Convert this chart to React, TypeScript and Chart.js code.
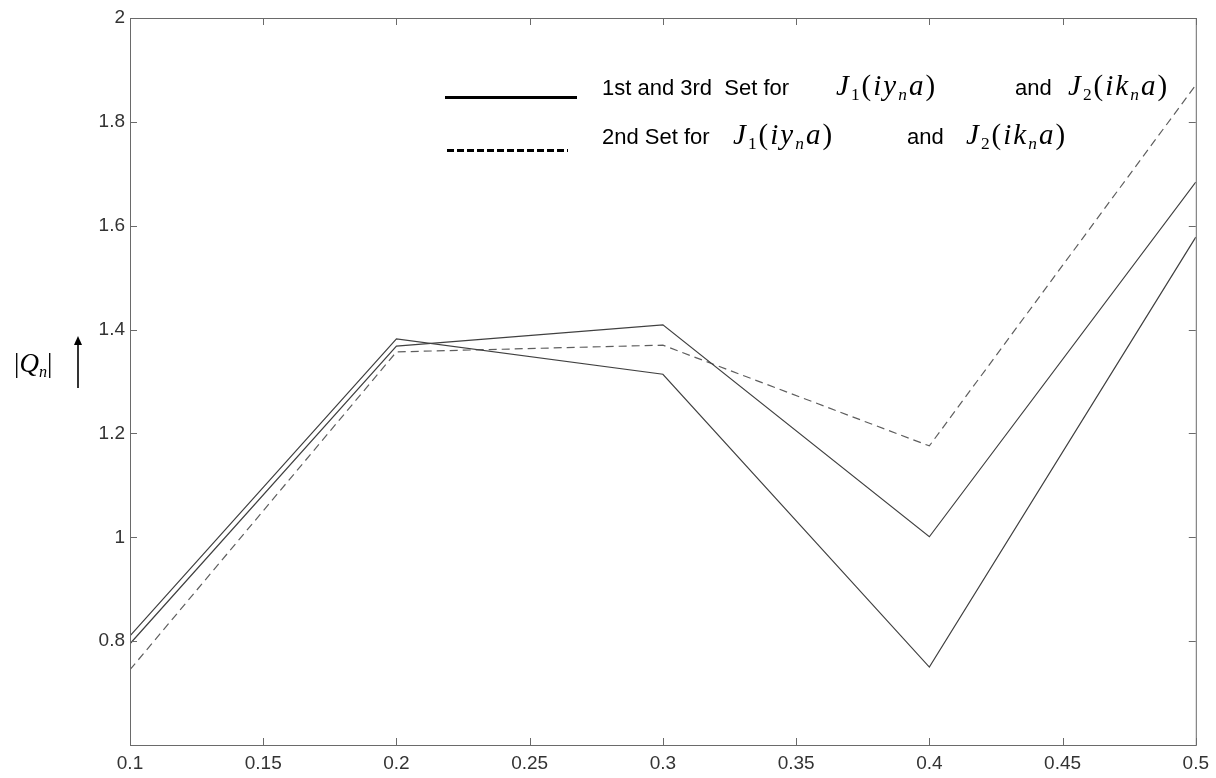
import React, { useEffect, useRef } from "react";
import { Chart, registerables } from "chart.js";

Chart.register(...registerables);

// ---- data ----
const xValues = [0.1, 0.2, 0.3, 0.4, 0.5];
const set1Values = [0.81, 1.382, 1.314, 0.75, 1.578];
const set3Values = [0.795, 1.368, 1.409, 1.001, 1.684];
const set2Values = [0.745, 1.357, 1.37, 1.176, 1.871];
const xTicks = [0.1, 0.15, 0.2, 0.25, 0.3, 0.35, 0.4, 0.45, 0.5];
const xTickLabels = ["0.1", "0.15", "0.2", "0.25", "0.3", "0.35", "0.4", "0.45", "0.5"];
const yTicks = [0.6, 0.8, 1, 1.2, 1.4, 1.6, 1.8, 2];
const yTickLabels = ["", "0.8", "1", "1.2", "1.4", "1.6", "1.8", "2"];

const W = 1216;
const H = 778;

const framePlugin = {
  id: "frame",
  afterDraw(chart: any) {
    const { ctx, chartArea, scales } = chart;
    const { left, right, top, bottom } = chartArea;
    ctx.save();
    ctx.strokeStyle = "#6a6a6a";
    ctx.lineWidth = 1;
    ctx.strokeRect(left + 0.5, top + 0.5, right - left, bottom - top);
    const tl = 7;
    ctx.beginPath();
    xTicks.forEach((v) => {
      const px = Math.round(scales.x.getPixelForValue(v)) + 0.5;
      ctx.moveTo(px, bottom);
      ctx.lineTo(px, bottom - tl);
      ctx.moveTo(px, top);
      ctx.lineTo(px, top + tl);
    });
    yTicks.forEach((v) => {
      const py = Math.round(scales.y.getPixelForValue(v)) + 0.5;
      ctx.moveTo(left, py);
      ctx.lineTo(left + tl, py);
      ctx.moveTo(right, py);
      ctx.lineTo(right - tl, py);
    });
    ctx.stroke();
    ctx.restore();
  },
};

function Sub({ children, italic }: { children: any; italic?: boolean }) {
  return (
    <span
      style={{
        fontSize: "0.6em",
        verticalAlign: "-0.3em",
        fontStyle: italic ? "italic" : "normal",
      }}
    >
      {children}
    </span>
  );
}

function MathJ({ idx, v }: { idx: string; v: string }) {
  return (
    <span
      style={{
        fontFamily: "'Liberation Serif', 'DejaVu Serif', serif",
        fontStyle: "italic",
        fontSize: 29,
        letterSpacing: 2,
      }}
    >
      J<Sub>{idx}</Sub>
      <span style={{ fontStyle: "normal" }}>(</span>
      {v}
      <Sub italic>n</Sub>a<span style={{ fontStyle: "normal" }}>)</span>
    </span>
  );
}

const abs = (left: number, top: number, extra: any = {}) => ({
  position: "absolute" as const,
  left,
  top,
  whiteSpace: "pre" as const,
  lineHeight: "28px",
  ...extra,
});

const sans = { fontFamily: "'Liberation Sans', Arial, sans-serif", fontSize: 22, color: "#000" };

export default function App() {
  const ref = useRef<HTMLCanvasElement | null>(null);

  useEffect(() => {
    if (!ref.current) return;
    const chart = new Chart(ref.current, {
      type: "line",
      data: {
        datasets: [
          {
            label: "1st Set",
            data: xValues.map((x, i) => ({ x, y: set1Values[i] })),
            borderColor: "#404040",
            borderWidth: 1.2,
            pointRadius: 0,
            tension: 0,
          },
          {
            label: "3rd Set",
            data: xValues.map((x, i) => ({ x, y: set3Values[i] })),
            borderColor: "#404040",
            borderWidth: 1.2,
            pointRadius: 0,
            tension: 0,
          },
          {
            label: "2nd Set",
            data: xValues.map((x, i) => ({ x, y: set2Values[i] })),
            borderColor: "#5e5e5e",
            borderWidth: 1.2,
            borderDash: [8, 5],
            pointRadius: 0,
            tension: 0,
          },
        ],
      },
      options: {
        animation: false,
        responsive: false,
        devicePixelRatio: 1,
        layout: { padding: { left: 0, right: 15, top: 18, bottom: 0 } },
        plugins: { legend: { display: false }, tooltip: { enabled: false }, title: { display: false } },
        scales: {
          x: {
            type: "linear",
            min: 0.1,
            max: 0.5,
            afterBuildTicks: (s: any) => {
              s.ticks = xTicks.map((v) => ({ value: v }));
            },
            afterFit: (s: any) => {
              s.height = 33;
            },
            grid: { display: false, drawTicks: false },
            border: { display: false },
            ticks: {
              padding: 7,
              color: "#333",
              font: { family: "'Liberation Sans', Arial, sans-serif", size: 19 },
              maxRotation: 0,
              autoSkip: false,
              callback: (v: any) => {
                const i = xTicks.findIndex((t) => Math.abs(t - Number(v)) < 1e-9);
                return i >= 0 ? xTickLabels[i] : "";
              },
            },
          },
          y: {
            type: "linear",
            min: 0.6,
            max: 2,
            afterBuildTicks: (s: any) => {
              s.ticks = yTicks.map((v) => ({ value: v }));
            },
            afterFit: (s: any) => {
              s.width = 130;
            },
            grid: { display: false, drawTicks: false },
            border: { display: false },
            ticks: {
              padding: 5,
              color: "#333",
              font: { family: "'Liberation Sans', Arial, sans-serif", size: 19 },
              autoSkip: false,
              callback: (v: any) => {
                const i = yTicks.findIndex((t) => Math.abs(t - Number(v)) < 1e-9);
                return i >= 0 ? yTickLabels[i] : "";
              },
            },
          },
        },
      },
      plugins: [framePlugin],
    });
    return () => chart.destroy();
  }, []);

  return (
    <div style={{ position: "fixed", left: 0, top: 0, width: W, height: H, background: "#fff", overflow: "hidden" }}>
      <canvas ref={ref} width={W} height={H} style={{ position: "absolute", left: 0, top: 0, width: W, height: H }} />

      {/* legend row 1 */}
      <div style={abs(445, 96, { width: 132, height: 3, background: "#000" })} />
      <div style={abs(602, 74, sans)}>{"1st and 3rd  Set for"}</div>
      <div style={abs(836, 71)}>
        <MathJ idx="1" v="iy" />
      </div>
      <div style={abs(1015, 74, sans)}>and</div>
      <div style={abs(1068, 71)}>
        <MathJ idx="2" v="ik" />
      </div>

      {/* legend row 2 */}
      <div
        style={abs(447, 149, {
          width: 121,
          height: 3,
          background: "repeating-linear-gradient(to right, #000 0px, #000 7px, transparent 7px, transparent 10px)",
        })}
      />
      <div style={abs(602, 123, sans)}>{"2nd Set for"}</div>
      <div style={abs(733, 120)}>
        <MathJ idx="1" v="iy" />
      </div>
      <div style={abs(907, 123, sans)}>and</div>
      <div style={abs(966, 120)}>
        <MathJ idx="2" v="ik" />
      </div>

      {/* y axis label */}
      <div
        style={abs(14, 348, {
          fontFamily: "'Liberation Serif', 'DejaVu Serif', serif",
          fontStyle: "italic",
          fontSize: 27,
          lineHeight: "30px",
        })}
      >
        <span style={{ fontStyle: "normal" }}>|</span>Q<Sub italic>n</Sub>
        <span style={{ fontStyle: "normal" }}>|</span>
      </div>
      <svg style={{ position: "absolute", left: 70, top: 336 }} width={16} height={54}>
        <line x1={8} y1={6} x2={8} y2={52} stroke="#000" strokeWidth={1.6} />
        <polygon points="8,0 4,9 12,9" fill="#000" />
      </svg>
    </div>
  );
}
